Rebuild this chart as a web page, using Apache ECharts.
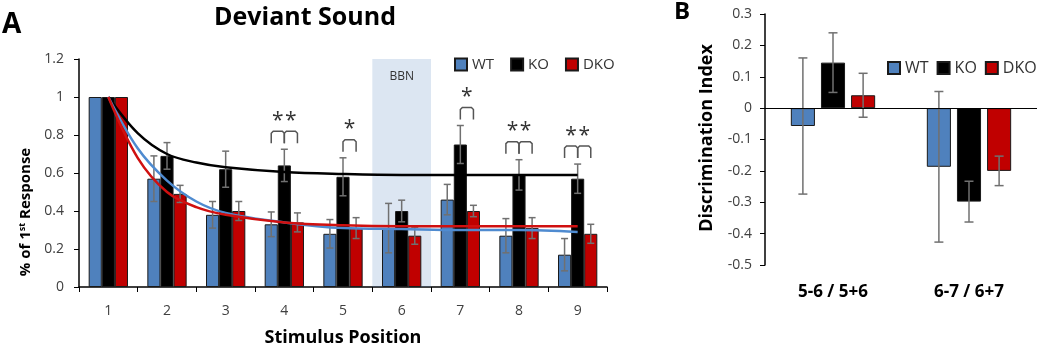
<!DOCTYPE html>
<html>
<head>
<meta charset="utf-8">
<script src="https://cdn.jsdelivr.net/npm/echarts@6/dist/echarts.min.js"></script>
<style>
  html, body { margin: 0; padding: 0; background: #fff; }
  #main { width: 1050px; height: 346px; }
</style>
</head>
<body>
<div id="main"></div>
<script>
// panel A: deviant sound, % of 1st response
const positions = ['1', '2', '3', '4', '5', '6', '7', '8', '9'];
const wt = [1, 0.57, 0.38, 0.33, 0.28, 0.31, 0.46, 0.27, 0.17];
const wtErr = [0, 0.12, 0.07, 0.065, 0.075, 0.13, 0.08, 0.09, 0.085];
const ko = [1, 0.69, 0.62, 0.64, 0.58, 0.40, 0.75, 0.59, 0.57];
const koErr = [0, 0.07, 0.095, 0.085, 0.10, 0.057, 0.10, 0.08, 0.077];
const dko = [1, 0.49, 0.40, 0.34, 0.31, 0.27, 0.40, 0.31, 0.28];
const dkoErr = [0, 0.045, 0.05, 0.05, 0.055, 0.045, 0.03, 0.055, 0.05];

// fitted decay curves
const fitX = [1, 1.5, 2, 2.5, 3, 4, 5, 6, 7, 8, 9];
const koFit = [1, 0.81, 0.70, 0.655, 0.63, 0.605, 0.595, 0.59, 0.59, 0.59, 0.59];
const wtFit = [1, 0.73, 0.56, 0.45, 0.39, 0.34, 0.31, 0.305, 0.30, 0.30, 0.29];
const dkoFit = [1, 0.68, 0.50, 0.42, 0.38, 0.34, 0.325, 0.32, 0.32, 0.32, 0.32];

// significance marks: '**' = WT-KO and KO-DKO, '*' = KO-DKO
const sigPos = ['4', '5', '7', '8', '9'];
const sigMark = ['**', '*', '*', '**', '**'];
const bbnPos = '6';

// panel B: discrimination index
const pairs = ['5-6 / 5+6', '6-7 / 6+7'];
const wtB = [-0.057, -0.187];
const wtBErr = [0.217, 0.24];
const koB = [0.145, -0.298];
const koBErr = [0.095, 0.065];
const dkoB = [0.041, -0.20];
const dkoBErr = [0.07, 0.047];

const colors = ['#4f81bd', '#000000', '#c00000'];
const fitColors = ['#4f8bd0', '#000000', '#d01010'];
const names = ['WT', 'KO', 'DKO'];
const font = 'Open Sans';

const gapA = 0.33;
const gapB = 0.38, barGapB = 0.25;

var myChart = echarts.init(document.getElementById('main'));

function errSeries(vals, errs, s, grid) {
  return {
    type: 'custom',
    xAxisIndex: grid === 0 ? 0 : 2,
    yAxisIndex: grid,
    z: 4,
    silent: true,
    data: vals.map((v, i) => [i, v, errs[i]]),
    renderItem: function (params, api) {
      const i = api.value(0), v = api.value(1), e = api.value(2);
      if (!e) return null;
      const band = api.size([1, 0])[0];
      let off, cap;
      if (grid === 0) {
        off = (s - 1) * band * (1 - gapA) / 3;
        cap = 3.5;
      } else {
        const w = band * (1 - gapB) / (3 + 2 * barGapB);
        off = (s - 1) * w * (1 + barGapB);
        cap = 4.5;
      }
      const hi = api.coord([i, v + e]);
      const lo = api.coord([i, v - e]);
      const x = hi[0] + off;
      const st = { stroke: '#707070', lineWidth: 1.5 };
      return {
        type: 'group',
        children: [
          { type: 'line', shape: { x1: x, y1: hi[1], x2: x, y2: lo[1] }, style: st },
          { type: 'line', shape: { x1: x - cap, y1: hi[1], x2: x + cap, y2: hi[1] }, style: st },
          { type: 'line', shape: { x1: x - cap, y1: lo[1], x2: x + cap, y2: lo[1] }, style: st }
        ]
      };
    }
  };
}

const seriesA = [wt, ko, dko];
const errA = [wtErr, koErr, dkoErr];
const seriesB = [wtB, koB, dkoB];
const errB = [wtBErr, koBErr, dkoBErr];
const fits = [wtFit, koFit, dkoFit];

let series = [];

seriesA.forEach((vals, s) => {
  series.push({
    name: names[s],
    type: 'bar',
    xAxisIndex: 0,
    yAxisIndex: 0,
    data: vals,
    barGap: '0%',
    barCategoryGap: (gapA * 100) + '%',
    itemStyle: { color: colors[s], borderColor: '#1a1a1a', borderWidth: 1 },
    emphasis: { disabled: true },
    z: 2
  });
});

seriesB.forEach((vals, s) => {
  let sr = {
    name: names[s],
    type: 'bar',
    xAxisIndex: 2,
    yAxisIndex: 1,
    data: vals,
    barGap: (barGapB * 100) + '%',
    barCategoryGap: (gapB * 100) + '%',
    itemStyle: { color: colors[s], borderColor: '#1a1a1a', borderWidth: 1 },
    emphasis: { disabled: true },
    z: 2
  };
  if (s === 0) {
    sr.markLine = {
      silent: true,
      symbol: 'none',
      label: { show: false },
      lineStyle: { color: '#000', type: 'solid', width: 1 },
      data: [{ yAxis: 0 }]
    };
  }
  series.push(sr);
});

// BBN shading, laid over the bars but under the curves
const bbnIdx = positions.indexOf(bbnPos) + 1;
series.push({
  type: 'line',
  xAxisIndex: 1,
  yAxisIndex: 0,
  z: 3,
  silent: true,
  symbol: 'none',
  lineStyle: { opacity: 0 },
  data: [[bbnIdx, 0]],
  markArea: {
    silent: true,
    itemStyle: { color: 'rgba(79,129,189,0.2)' },
    label: {
      show: true, position: 'insideTop', distance: 12,
      fontFamily: font, fontSize: 12, color: '#333'
    },
    data: [[{ name: 'BBN', xAxis: bbnIdx - 0.5, yAxis: 1.2 }, { xAxis: bbnIdx + 0.5, yAxis: 0 }]]
  }
});

seriesA.forEach((vals, s) => series.push(errSeries(vals, errA[s], s, 0)));
seriesB.forEach((vals, s) => series.push(errSeries(vals, errB[s], s, 1)));

[1, 0, 2].forEach(s => {
  series.push({
    type: 'line',
    xAxisIndex: 1,
    yAxisIndex: 0,
    z: 5,
    silent: true,
    smooth: 0.35,
    symbol: 'none',
    lineStyle: { color: fitColors[s], width: 2.5 },
    data: fitX.map((x, i) => [x, fits[s][i]])
  });
});

// significance brackets
series.push({
  type: 'custom',
  xAxisIndex: 0,
  yAxisIndex: 0,
  z: 6,
  silent: true,
  data: sigPos.map((p, k) => [positions.indexOf(p), sigMark[k].length]),
  renderItem: function (params, api) {
    const i = api.value(0), n = api.value(1);
    const band = api.size([1, 0])[0];
    const w = band * (1 - gapA) / 3;
    const prs = n === 2 ? [[0, 1], [1, 2]] : [[1, 2]];
    let top = 0;
    prs.forEach(pr => pr.forEach(s => { top = Math.max(top, seriesA[s][i] + errA[s][i]); }));
    const c = api.coord([i, top + 0.095]);
    const yTop = c[1];
    const leg = 12;
    const st = { stroke: '#555', lineWidth: 1.5, fill: null };
    let kids = [];
    prs.forEach(pr => {
      const x1 = c[0] + (pr[0] - 1) * w;
      const x2 = c[0] + (pr[1] - 1) * w;
      kids.push({
        type: 'polyline',
        shape: { points: [[x1, yTop + leg], [x1, yTop + 2], [x1 + 2, yTop], [x2 - 2, yTop], [x2, yTop + 2], [x2, yTop + leg]] },
        style: st
      });
      kids.push({
        type: 'text',
        style: {
          text: '*', x: (x1 + x2) / 2, y: yTop,
          align: 'center', verticalAlign: 'bottom',
          font: '21px "' + font + '"', fill: '#333'
        }
      });
    });
    return { type: 'group', children: kids };
  }
});

const tickLabel = { fontFamily: font, fontSize: 14, color: '#404040' };

var option = {
  animation: false,
  backgroundColor: '#fff',
  textStyle: { fontFamily: font },
  legend: [
    {
      data: names, left: 449, top: 52,
      icon: 'rect', itemWidth: 12, itemHeight: 12, itemGap: 16,
      textStyle: { fontFamily: font, fontSize: 15, color: '#333' },
      selectedMode: false
    },
    {
      data: names, left: 882, top: 55,
      icon: 'rect', itemWidth: 12, itemHeight: 12, itemGap: 8,
      textStyle: { fontFamily: font, fontSize: 16, color: '#333' },
      selectedMode: false
    }
  ],
  grid: [
    { left: 79, top: 59, width: 528, height: 228, outerBoundsMode: 'none' },
    { left: 765, top: 14, width: 272, height: 251, outerBoundsMode: 'none' }
  ],
  xAxis: [
    {
      type: 'category', gridIndex: 0, data: positions,
      axisLine: { lineStyle: { color: '#000', width: 1.5 } },
      axisTick: { show: true, length: 5, lineStyle: { color: '#000' } },
      axisLabel: Object.assign({ margin: 17 }, tickLabel),
      name: 'Stimulus Position', nameLocation: 'middle', nameGap: 42,
      nameTextStyle: { fontFamily: font, fontSize: 18, fontWeight: 'bold', color: '#000' }
    },
    { type: 'value', gridIndex: 0, min: 0.5, max: 9.5, show: false },
    {
      type: 'category', gridIndex: 1, data: pairs,
      axisLine: { show: false, onZero: false },
      axisTick: { show: false },
      axisLabel: { margin: 19, fontFamily: font, fontSize: 17, fontWeight: 'bold', color: '#000' }
    }
  ],
  yAxis: [
    {
      type: 'value', gridIndex: 0, min: 0, max: 1.2, interval: 0.2,
      axisLine: { show: true, lineStyle: { color: '#000', width: 1.5 } },
      axisTick: { show: true, length: 5, lineStyle: { color: '#000' } },
      splitLine: { show: false },
      axisLabel: Object.assign({ margin: 15 }, tickLabel)
    },
    {
      type: 'value', gridIndex: 1, min: -0.5, max: 0.3, interval: 0.1,
      axisLine: { show: true, lineStyle: { color: '#000', width: 1.5 } },
      axisTick: { show: true, length: 5, lineStyle: { color: '#000' } },
      splitLine: { show: false },
      axisLabel: Object.assign({ margin: 13 }, tickLabel)
    }
  ],
  graphic: [
    { type: 'text', left: 2, top: 11, style: { text: 'A', font: 'bold 28px "' + font + '"', fill: '#000' } },
    { type: 'text', left: 674, top: 0, style: { text: 'B', font: 'bold 24px "' + font + '"', fill: '#000' } },
    {
      type: 'text', x: 305, y: 18,
      style: { text: 'Deviant Sound', font: 'bold 25px "' + font + '"', fill: '#000', align: 'center', verticalAlign: 'middle' }
    },
    {
      type: 'text', x: 26, y: 212, rotation: Math.PI / 2,
      style: {
        text: '% of 1{sup|st} Response',
        align: 'center', verticalAlign: 'middle',
        font: 'bold 15px "' + font + '"', fill: '#000',
        rich: { sup: { fontFamily: font, fontSize: 9, fontWeight: 'bold', verticalAlign: 'top', padding: [0, 0, 8, 0] } }
      }
    },
    {
      type: 'text', x: 707, y: 138, rotation: Math.PI / 2,
      style: { text: 'Discrimination Index', align: 'center', verticalAlign: 'middle', font: 'bold 18px "' + font + '"', fill: '#000' }
    }
  ],
  series: series
};

myChart.setOption(option);
</script>
</body>
</html>
